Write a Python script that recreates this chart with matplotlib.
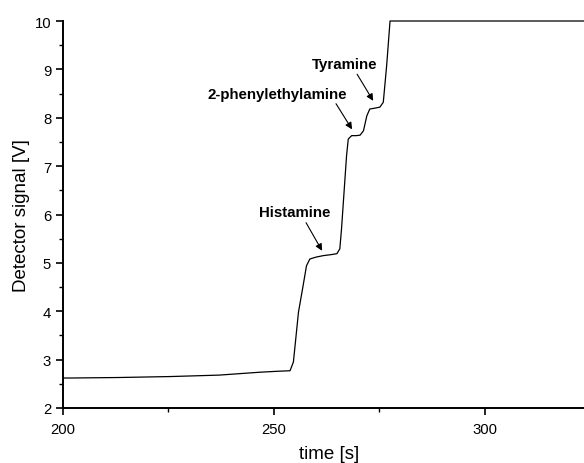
import matplotlib
matplotlib.use("Agg")
import matplotlib.pyplot as plt
from matplotlib.ticker import MultipleLocator

time_s = [200, 202, 213, 225.4, 237, 246.7, 251, 253.8, 254.6, 255.8, 256.9, 257.7,
          258.5, 260.0, 261.7, 263.5, 264.9, 265.6, 266.0, 267.2, 267.6, 268.4, 269.5,
          270.4, 271.2, 272.0, 272.7, 274.0, 275.1, 275.9, 276.7, 277.5, 300, 330]
signal_v = [2.62, 2.62, 2.63, 2.65, 2.68, 2.74, 2.76, 2.77, 2.95, 3.98, 4.53, 4.94,
            5.08, 5.12, 5.15, 5.17, 5.19, 5.29, 5.70, 7.22, 7.56, 7.63, 7.63,
            7.64, 7.73, 8.04, 8.18, 8.20, 8.22, 8.32, 9.08, 10.0, 10.0, 10.0]

labels = ["Histamine", "2-phenylethylamine", "Tyramine"]
label_xy = [(254.8, 6.05), (267.2, 8.50), (266.8, 9.11)]
label_ha = ["center", "right", "center"]
arrow_tail = [(257.6, 5.83), (264.7, 8.29), (269.7, 8.90)]
arrow_head = [(261.4, 5.25), (268.5, 7.76), (273.5, 8.35)]

plt.rcParams['font.family'] = ['Liberation Sans', 'DejaVu Sans']
fig = plt.figure(figsize=(5.84, 4.64), dpi=100)
ax = fig.add_axes([63/584, 55/464, (594.7 - 63)/584, 387/464])
ax.plot(time_s, signal_v, color='black', lw=0.9, clip_on=False)
ax.set_xlim(200, 326)
ax.set_ylim(2, 10)
ax.xaxis.set_major_locator(MultipleLocator(50))
ax.xaxis.set_minor_locator(MultipleLocator(25))
ax.yaxis.set_major_locator(MultipleLocator(1))
ax.yaxis.set_minor_locator(MultipleLocator(0.5))
for s in ['top', 'right']:
    ax.spines[s].set_visible(False)
for s in ['left', 'bottom']:
    ax.spines[s].set_linewidth(1.4)
ax.tick_params(which='major', direction='out', length=5, width=1.2, labelsize=10.7)
ax.tick_params(axis='x', which='major', pad=5)
ax.tick_params(which='minor', direction='out', length=3, width=1.0)
ax.set_xlabel('time [s]', fontsize=13.5, labelpad=6.5)
ax.set_ylabel('Detector signal [V]', fontsize=13.5, labelpad=3)

for lab, xy, ha in zip(labels, label_xy, label_ha):
    ax.text(xy[0], xy[1], lab, ha=ha, va='center', fontsize=10.8, fontweight='bold')
for t, h in zip(arrow_tail, arrow_head):
    ax.annotate('', xy=h, xytext=t,
                arrowprops=dict(arrowstyle='-|>', color='black', lw=0.8,
                                mutation_scale=10, shrinkA=0, shrinkB=0))

fig.savefig('out.png', dpi=100)
